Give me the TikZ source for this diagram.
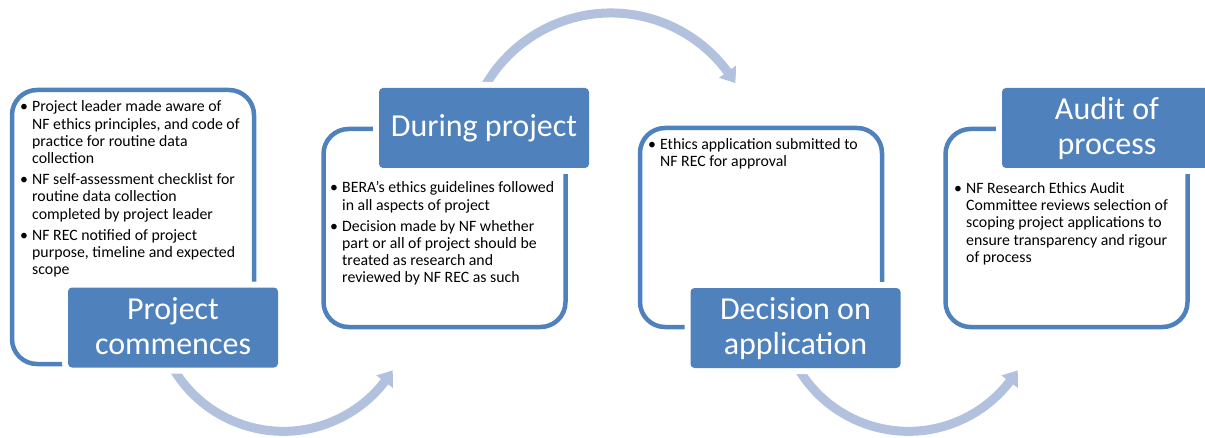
\documentclass[tikz,border=0pt]{standalone}
\usepackage{fontspec}
\setmainfont{Carlito}
\usetikzlibrary{arrows.meta,bending}
\definecolor{hdrblue}{RGB}{79,129,189}
\definecolor{arcblue}{RGB}{178,194,222}
\newcommand{\bul}{\textbullet &}
% tieu de: mot hoac hai dong, chieu cao co dinh
\newcommand{\hdone}[1]{\raisebox{0pt}[26.5pt][8.5pt]{#1}}
\newcommand{\hdtwo}[2]{\raisebox{0pt}[26.5pt][43.5pt]{\begin{tabular}[t]{@{}c@{}}#1\\#2\end{tabular}}}
\begin{document}
\begin{tikzpicture}[x=1pt,y=1pt,line join=round,
	frame/.style={draw=hdrblue,line width=4.5pt,rounded corners=25pt,minimum width=242pt,inner sep=0pt},
	header/.style={fill=hdrblue,rounded corners=4pt,minimum width=210pt,minimum height=80pt,inner sep=0pt,text=white,font=\fontsize{32}{35}\selectfont,preaction={draw=white,line width=12pt}},
	notes/.style={anchor=north west,inner sep=0pt,font=\fontsize{15.8}{17.2}\selectfont},
	flow/.style={draw=arcblue,line width=9pt,-{Triangle[width=20pt,length=14pt,bend]}}]
	\useasboundingbox (0,0) rectangle (1205,437);
	%Khung
	\node[frame,minimum height=274pt] (f1) at (133,210) {};
	\node[frame,minimum height=198pt] (f2) at (444.5,209) {};
	\node[frame,minimum height=199pt] (f3) at (761,209.5) {};
	\node[frame,minimum height=198pt] (f4) at (1066.5,209) {};
	%Mui ten
	\coordinate (a1) at (167.4,79.6);
	\coordinate (a2) at (474.7,328.6);
	\coordinate (a3) at (792.4,79.6);
	\draw[flow] (a1) arc[start angle=205,end angle=328.5,radius=128];
	\draw[flow] (a2) arc[start angle=160,end angle=31,radius=145];
	\draw[flow] (a3) arc[start angle=205,end angle=328.5,radius=128];
	%Tieu de
	\node[header] (h1) at (173,109.5) {\hdtwo{Project}{commences}};
	\node[header] (h2) at (484,309) {\hdone{During project}};
	\node[header] (h3) at (795.5,109) {\hdtwo{Decision on}{application}};
	\node[header] (h4) at (1107,309) {\hdtwo{Audit of}{process}};
	%Noi dung
	\node[notes] (t1) at (20,337.3) {\begin{tabular}{@{}p{12pt}@{}l@{}}
		\bul Project leader made aware of\\ & NF ethics principles, and code of\\ & practice for routine data\\ & collection\\[4pt]
		\bul NF self-assessment checklist for\\ & routine data collection\\ & completed by project leader\\[4pt]
		\bul NF REC notified of project\\ & purpose, timeline and expected\\ & scope
		\end{tabular}};
	\node[notes] (t2) at (330,256.3) {\begin{tabular}{@{}p{12pt}@{}l@{}}
		\bul BERA's ethics guidelines followed\\ & in all aspects of project\\[4pt]
		\bul Decision made by NF whether\\ & part or all of project should be\\ & treated as research and\\ & reviewed by NF REC as such
		\end{tabular}};
	\node[notes] (t3) at (648,299.7) {\begin{tabular}{@{}p{12pt}@{}l@{}}
		\bul Ethics application submitted to\\ & NF REC for approval
		\end{tabular}};
	\node[notes] (t4) at (954,255.7) {\begin{tabular}{@{}p{12pt}@{}l@{}}
		\bul NF Research Ethics Audit\\ & Committee reviews selection of\\ & scoping project applications to\\ & ensure transparency and rigour\\ & of process
		\end{tabular}};
\end{tikzpicture}
\end{document}
